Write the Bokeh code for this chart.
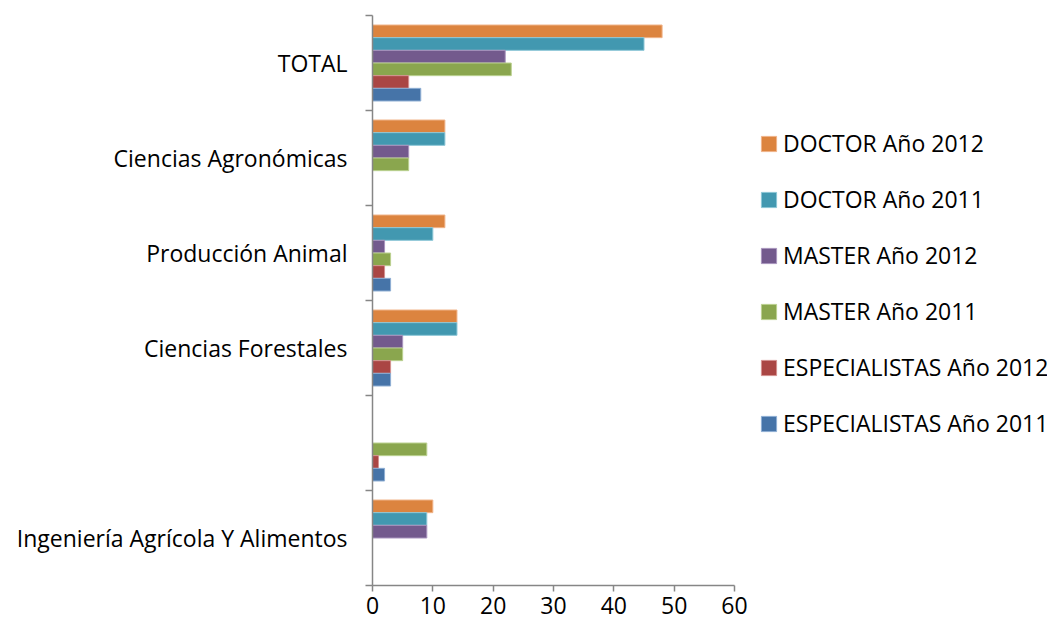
from bokeh.plotting import figure
from bokeh.models import ColumnDataSource, FixedTicker, Range1d, Legend, LegendItem
from bokeh.transform import dodge
from bokeh.embed import file_html
from bokeh.resources import INLINE

# Categories listed top to bottom
categories = ["TOTAL", "Ciencias Agronómicas", "Producción Animal",
              "Ciencias Forestales", "", "Ingeniería Agrícola Y Alimentos"]

series_names = ["DOCTOR Año 2012", "DOCTOR Año 2011", "MASTER Año 2012",
                "MASTER Año 2011", "ESPECIALISTAS Año 2012", "ESPECIALISTAS Año 2011"]

doctor_2012 = [48, 12, 12, 14, 0, 10]
doctor_2011 = [45, 12, 10, 14, 0, 9]
master_2012 = [22, 6, 2, 5, 0, 9]
master_2011 = [23, 6, 3, 5, 9, 0]
esp_2012 = [6, 0, 2, 3, 1, 0]
esp_2011 = [8, 0, 3, 3, 2, 0]

x_ticks = [0, 10, 20, 30, 40, 50, 60]

colors = ["#DC843F", "#4298B0", "#735A8D", "#8AA64E", "#AA4644", "#4674A8"]
edge_colors = ["#F0B48A", "#8CC6D6", "#A995BE", "#BBD190", "#D49190", "#8FAFD4"]

n = len(categories)
ypos = [n - i - 0.5 for i in range(n)]

src = ColumnDataSource(dict(
    y=ypos, cat=categories,
    s0=doctor_2012, s1=doctor_2011, s2=master_2012,
    s3=master_2011, s4=esp_2012, s5=esp_2011,
))

FONT = "Open Sans"
FS = "23px"
AXIS_COLOR = "#868686"

W, H = 1047, 627
LEFT, TOP, BOTTOM = 372, 15, 42
AXIS_PX = 362  # pixel length of the 0..60 value axis
# the frame extends to the right edge so the legend can sit inside it;
# the value axis itself is bounded to 0..60
x_end = x_ticks[-1] * (W - LEFT) / AXIS_PX

p = figure(width=W, height=H, output_backend="svg", toolbar_location=None,
           x_range=Range1d(x_ticks[0], x_end), y_range=Range1d(0, n),
           min_border_left=LEFT, min_border_right=0,
           min_border_top=TOP, min_border_bottom=BOTTOM)
p.outline_line_color = None
p.xgrid.grid_line_color = None
p.ygrid.grid_line_color = None
p.background_fill_color = "white"
p.border_fill_color = "white"

bar_h = 0.8 / 6
offsets = [bar_h * (2.5 - k) for k in range(6)]

items = []
for k in range(6):
    r = p.hbar(y=dodge("y", offsets[k]), left=0, right=f"s{k}", height=bar_h,
               source=src, fill_color=colors[k], line_color=edge_colors[k],
               line_width=1)
    items.append(LegendItem(label=series_names[k], renderers=[r]))

# x axis
xa = p.xaxis[0]
xa.bounds = (x_ticks[0], x_ticks[-1])
xa.ticker = FixedTicker(ticks=x_ticks, minor_ticks=[])
xa.axis_line_color = AXIS_COLOR
xa.axis_line_width = 1.5
xa.major_tick_line_color = AXIS_COLOR
xa.major_tick_line_width = 1.5
xa.major_tick_out = 6
xa.major_tick_in = 0
xa.minor_tick_line_color = None
xa.major_label_standoff = 5
xa.major_label_text_font = FONT
xa.major_label_text_font_size = FS
xa.major_label_text_color = "#000000"

# y axis: labels at category centers, ticks at category boundaries
ya = p.yaxis[0]
ya.ticker = FixedTicker(ticks=ypos, minor_ticks=list(range(n + 1)))
ya.major_label_overrides = {y: c for y, c in zip(ypos, categories)}
ya.axis_line_color = AXIS_COLOR
ya.axis_line_width = 1.5
ya.major_tick_line_color = None
ya.major_tick_out = 0
ya.major_tick_in = 0
ya.minor_tick_line_color = AXIS_COLOR
ya.minor_tick_line_width = 1.5
ya.minor_tick_out = 7
ya.minor_tick_in = 0
ya.major_label_standoff = 18
ya.major_label_text_font = FONT
ya.major_label_text_font_size = FS
ya.major_label_text_color = "#000000"

legend = Legend(items=items, location=(387, 146),
                glyph_width=19, glyph_height=19, label_height=22,
                spacing=24, label_standoff=5, padding=0, margin=0,
                border_line_color=None, background_fill_alpha=0,
                label_text_font=FONT, label_text_font_size=FS,
                label_text_color="#000000")
p.add_layout(legend, "center")

open("out.html", "w").write(file_html(p, INLINE))
